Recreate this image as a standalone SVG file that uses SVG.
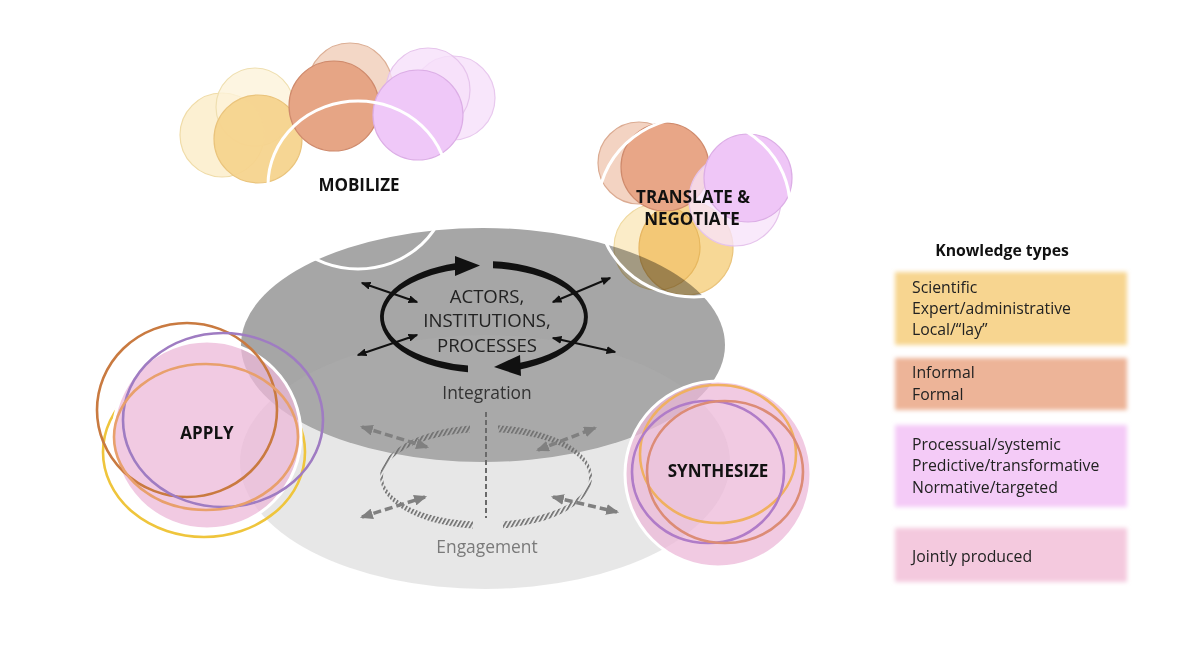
<svg xmlns="http://www.w3.org/2000/svg" width="1200" height="671" viewBox="0 0 1200 671">
<style>
text{font-family:"Open Sans","Noto Sans","Liberation Sans",sans-serif}
.lbl{font-weight:700;font-size:17px;fill:#111;text-anchor:middle}
.ctr{font-size:18.6px;fill:#222;text-anchor:middle}
.leg{font-size:15.8px;fill:#222}
.ring{fill:none;stroke-width:2.6}
.wring{fill:none;stroke:#fff;stroke-width:3}
.blk{stroke:#111;stroke-width:2;fill:none}
.gda{stroke:#808080;stroke-width:3.5;stroke-dasharray:8 4;fill:none}
.mul{mix-blend-mode:multiply}
</style>
<defs>
<marker id="ab" viewBox="0 0 10 8" refX="8.5" refY="4" markerWidth="10" markerHeight="8" markerUnits="userSpaceOnUse" orient="auto-start-reverse"><path d="M0,0 L10,4 L0,8 z" fill="#111"/></marker>
<marker id="ag" viewBox="0 0 12 10" refX="10" refY="5" markerWidth="13" markerHeight="11" markerUnits="userSpaceOnUse" orient="auto-start-reverse"><path d="M0,0 L12,5 L0,10 z" fill="#808080"/></marker>
<pattern id="hatch" patternUnits="userSpaceOnUse" width="3.6" height="10" patternTransform="rotate(30)"><rect x="0" y="0" width="1.6" height="10" fill="#6e6e6e"/></pattern>
<filter id="soft" x="-10%" y="-20%" width="120%" height="140%"><feGaussianBlur stdDeviation="2.2"/></filter>
<mask id="outsideApply" maskUnits="userSpaceOnUse" x="0" y="0" width="1200" height="671">
<rect x="0" y="0" width="1200" height="671" fill="#fff"/>
<circle cx="207" cy="435" r="95" fill="#000"/>
</mask>
</defs>

<g id="platform">
<ellipse cx="483" cy="345" rx="242" ry="117" fill="#a6a6a6"/>
<ellipse cx="485" cy="462" rx="245" ry="127" fill="#b0b0b0" fill-opacity="0.3"/>
</g>

<g id="mobilize">
<circle cx="222" cy="135" r="42" fill="#fcf0d2" stroke="#f0dca8" stroke-width="1.2"/>
<circle cx="255" cy="107" r="39" fill="#fdf3d9" fill-opacity="0.8" stroke="#efdfb0" stroke-width="1.2"/>
<circle cx="258" cy="139" r="44" fill="#f6d48e" fill-opacity="0.95" stroke="#eac47c" stroke-width="1.2"/>
<circle cx="350" cy="85" r="42" fill="#f3d7c6" stroke="#dcae94" stroke-width="1.2"/>
<circle cx="334" cy="106" r="45" fill="#e6a585" stroke="#cf8a6c" stroke-width="1.2"/>
<circle cx="453" cy="98" r="42" fill="#f8e6fb" stroke="#e8c8ee" stroke-width="1.2"/>
<circle cx="428" cy="90" r="42" fill="#f6e0fa" fill-opacity="0.8" stroke="#e6c4ec" stroke-width="1.2"/>
<circle cx="418" cy="115" r="45" fill="#efc8f8" stroke="#dcaee6" stroke-width="1.2"/>
<ellipse class="wring" cx="358" cy="185" rx="90" ry="84"/>
<text class="lbl" x="359" y="191">MOBILIZE</text>
</g>

<g id="translate">
<circle class="mul" cx="657" cy="247" r="43" fill="#fbecc8" stroke="#efd9a0" stroke-width="1.2"/>
<circle class="mul" cx="686" cy="248" r="47" fill="#f7d896" stroke="#eac47c" stroke-width="1.2"/>
<circle cx="639" cy="163" r="41" fill="#f3d3c2" stroke="#dbab92" stroke-width="1.2"/>
<circle cx="665" cy="167" r="44" fill="#e8a687" stroke="#cf8a6c" stroke-width="1.2"/>
<circle cx="735" cy="200" r="46" fill="#f8e4fa" fill-opacity="0.8" stroke="#e6c4ec" stroke-width="1.2"/>
<circle cx="748" cy="178" r="44" fill="#efc6f7" stroke="#dcaee6" stroke-width="1.2"/>
<ellipse class="wring" cx="694" cy="207" rx="96" ry="90"/>
<text class="lbl" x="693" y="203">TRANSLATE &amp;</text>
<text class="lbl" x="692" y="225">NEGOTIATE</text>
</g>

<g id="integration-cycle">
<path d="M468 372.3 A104 56 0 0 1 455 263.2 L455 270.1 A100 49 0 0 0 468 365.4 Z" fill="#111"/>
<polygon points="455,256 455,276 480,265.5" fill="#111"/>
<path d="M493 261.2 A104 56 0 0 1 520 369.5 L520 362.7 A100 49 0 0 0 493 268.2 Z" fill="#111"/>
<polygon points="520,355 521,376 494,367" fill="#111"/>
<text class="ctr" x="487" y="303">ACTORS,</text>
<text class="ctr" x="487" y="327">INSTITUTIONS,</text>
<text class="ctr" x="487" y="352">PROCESSES</text>
<text x="487" y="399" style="font-size:17.4px;fill:#333;text-anchor:middle">Integration</text>
</g>

<g id="engagement-cycle">
<line x1="486" y1="412" x2="486" y2="518" stroke="#6a6a6a" stroke-width="2" stroke-dasharray="5 3"/>
<path d="M473 528.6 A106 52 0 0 1 470 425.6 L470 432.5 A103 45 0 0 0 473 521.6 Z" fill="url(#hatch)"/>
<path d="M498 425.3 A106 52 0 0 1 503 528.3 L503 521.4 A103 45 0 0 0 498 432.3 Z" fill="url(#hatch)"/>
<text x="487" y="553" style="font-size:17.4px;fill:#7a7a7a;text-anchor:middle">Engagement</text>
</g>

<g id="connectors">
<line class="blk" x1="362" y1="283" x2="417" y2="302" marker-start="url(#ab)" marker-end="url(#ab)"/>
<line class="blk" x1="358" y1="355" x2="417" y2="335" marker-start="url(#ab)" marker-end="url(#ab)"/>
<line class="blk" x1="553" y1="302" x2="610" y2="278" marker-start="url(#ab)" marker-end="url(#ab)"/>
<line class="blk" x1="553" y1="338" x2="615" y2="352" marker-start="url(#ab)" marker-end="url(#ab)"/>
<line class="gda" x1="362" y1="427" x2="427" y2="447" marker-start="url(#ag)" marker-end="url(#ag)"/>
<line class="gda" x1="362" y1="517" x2="425" y2="497" marker-start="url(#ag)" marker-end="url(#ag)"/>
<line class="gda" x1="538" y1="450" x2="595" y2="428" marker-start="url(#ag)" marker-end="url(#ag)"/>
<line class="gda" x1="553" y1="497" x2="617" y2="512" marker-start="url(#ag)" marker-end="url(#ag)"/>
</g>

<g id="apply">
<ellipse class="ring" cx="204" cy="452" rx="101" ry="85" stroke="#efc53c" mask="url(#outsideApply)"/>
<circle cx="207" cy="435" r="94" fill="#ecb8d8" fill-opacity="0.75" stroke="#fff" stroke-width="3"/>
<ellipse class="ring" cx="187" cy="410" rx="90" ry="87" stroke="#c97a40"/>
<ellipse class="ring" cx="223" cy="420" rx="100" ry="87" stroke="#9f7cc2"/>
<ellipse class="ring" cx="206" cy="437" rx="92" ry="73" stroke="#e8a06c"/>
<text class="lbl" x="207" y="439">APPLY</text>
</g>

<g id="synthesize">
<circle cx="718" cy="474" r="93" fill="#ecb8d8" fill-opacity="0.75" stroke="#fff" stroke-width="3"/>
<ellipse class="ring" cx="718" cy="454" rx="78" ry="69" stroke="#f0b060"/>
<ellipse class="ring" cx="708" cy="472" rx="76" ry="71" stroke="#b07cc8"/>
<ellipse class="ring" cx="725" cy="472" rx="78" ry="71" stroke="#dc8c76"/>
<text class="lbl" x="718" y="477">SYNTHESIZE</text>
</g>

<g id="legend">
<text x="1002" y="256" style="font-weight:700;font-size:15.8px;fill:#111;text-anchor:middle">Knowledge types</text>
<rect x="895" y="272" width="232" height="73" fill="#f7d590" filter="url(#soft)"/>
<rect x="895" y="358" width="232" height="52" fill="#edb498" filter="url(#soft)"/>
<rect x="895" y="425" width="232" height="82" fill="#f4cbf7" filter="url(#soft)"/>
<rect x="895" y="528" width="232" height="54" fill="#f4c9de" filter="url(#soft)"/>
<text class="leg" x="912" y="293">Scientific</text>
<text class="leg" x="912" y="314">Expert/administrative</text>
<text class="leg" x="912" y="335">Local/“lay”</text>
<text class="leg" x="912" y="378">Informal</text>
<text class="leg" x="912" y="400">Formal</text>
<text class="leg" x="912" y="450">Processual/systemic</text>
<text class="leg" x="912" y="471">Predictive/transformative</text>
<text class="leg" x="912" y="493">Normative/targeted</text>
<text class="leg" x="912" y="562">Jointly produced</text>
</g>
</svg>
